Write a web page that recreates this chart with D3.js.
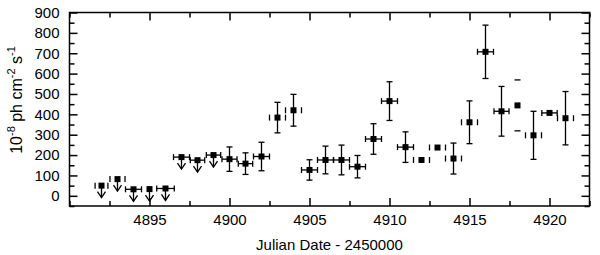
<!DOCTYPE html>
<html>
<head>
<meta charset="utf-8">
<script src="https://cdn.jsdelivr.net/npm/d3@7"></script>
<style>
  body { margin: 0; background: #fff; }
  text { font-family: "Liberation Sans", Arial, sans-serif; fill: #000; }
</style>
</head>
<body>
<div id="vis-holder"></div>
<script>
// Data
const days = [4892, 4893, 4894, 4895, 4896, 4897, 4898, 4899, 4900, 4901,
              4902, 4903, 4904, 4905, 4906, 4907, 4908, 4909, 4910, 4911,
              4912, 4913, 4914, 4915, 4916, 4917, 4918, 4919, 4920, 4921];
const flux = [50, 82, 32, 33, 36, 190, 175, 200, 180, 158,
              193, 384, 420, 127, 176, 176, 143, 279, 465, 239,
              176, 237, 183, 361, 707, 415, 444, 297, 407, 381];
const fluxErr = [0, 0, 0, 0, 0, 0, 0, 0, 60, 53,
                 70, 75, 78, 50, 68, 73, 55, 75, 95, 75,
                 0, 0, 76, 105, 131, 122, 125, 118, 0, 131];
const dayErr = [0.4, 0.47, 0.5, 0, 0.55, 0.5, 0.45, 0.45, 0.47, 0.45,
                0.5, 0.5, 0.5, 0.5, 0.5, 0.5, 0.5, 0.5, 0.5, 0.5,
                0.5, 0.5, 0.5, 0.5, 0.5, 0.47, 0, 0.5, 0.48, 0.5];
const upperLimit = [true, true, true, true, true, true, true, true, false, false,
                    false, false, false, false, false, false, false, false, false, false,
                    false, false, false, false, false, false, false, false, false, false];

const xMajor = [4895, 4900, 4905, 4910, 4915, 4920];
const yMajor = [0, 100, 200, 300, 400, 500, 600, 700, 800, 900];

// points where only the error bar caps show
const capsOnlyX = new Set([0, 1, 11, 12, 20, 21, 22, 23, 27, 29]);
const capsOnlyY = new Set([26]);

const width = 600, height = 255;
const margin = { top: 12.5, right: 10.5, bottom: 49, left: 69.5 };

const svg = d3.select("#vis-holder")
  .append("svg")
  .attr("width", width)
  .attr("height", height);

const x = d3.scaleLinear()
  .domain([4890, 4922.5])
  .range([margin.left, width - margin.right]);

const y = d3.scaleLinear()
  .domain([-50, 900])
  .range([height - margin.bottom, margin.top]);

const xMinor = d3.range(4890, 4922.6, 2.5).filter(d => !xMajor.includes(d));
const yMinor = d3.range(-50, 901, 50).filter(d => !yMajor.includes(d));

// axes, ticks pointing inside
function styleAxis(g) {
  g.select(".domain").remove();
  g.selectAll("line").attr("stroke", "#000").attr("stroke-width", 1.5);
  g.selectAll("text").attr("font-size", "15px").attr("font-family", null);
}

svg.append("g")
  .attr("transform", `translate(0,${height - margin.bottom})`)
  .call(d3.axisBottom(x).tickValues(xMajor).tickSize(-8).tickPadding(8).tickFormat(d3.format("d")))
  .call(styleAxis);
svg.append("g")
  .attr("transform", `translate(0,${height - margin.bottom})`)
  .call(d3.axisBottom(x).tickValues(xMinor).tickSize(-5).tickFormat(""))
  .call(styleAxis);
svg.append("g")
  .attr("transform", `translate(0,${margin.top})`)
  .call(d3.axisTop(x).tickValues(xMajor).tickSize(-8).tickFormat(""))
  .call(styleAxis);
svg.append("g")
  .attr("transform", `translate(0,${margin.top})`)
  .call(d3.axisTop(x).tickValues(xMinor).tickSize(-5).tickFormat(""))
  .call(styleAxis);

svg.append("g")
  .attr("transform", `translate(${margin.left},0)`)
  .call(d3.axisLeft(y).tickValues(yMajor).tickSize(-8).tickPadding(10))
  .call(styleAxis);
svg.append("g")
  .attr("transform", `translate(${margin.left},0)`)
  .call(d3.axisLeft(y).tickValues(yMinor).tickSize(-5).tickFormat(""))
  .call(styleAxis);
svg.append("g")
  .attr("transform", `translate(${width - margin.right},0)`)
  .call(d3.axisRight(y).tickValues(yMajor).tickSize(-8).tickFormat(""))
  .call(styleAxis);
svg.append("g")
  .attr("transform", `translate(${width - margin.right},0)`)
  .call(d3.axisRight(y).tickValues(yMinor).tickSize(-5).tickFormat(""))
  .call(styleAxis);

// frame
svg.append("rect")
  .attr("x", margin.left)
  .attr("y", margin.top)
  .attr("width", width - margin.left - margin.right)
  .attr("height", height - margin.top - margin.bottom)
  .attr("fill", "none")
  .attr("stroke", "#000")
  .attr("stroke-width", 1.5);

// axis titles
svg.append("text")
  .attr("x", (margin.left + width - margin.right) / 2)
  .attr("y", 250)
  .attr("text-anchor", "middle")
  .attr("font-size", "15px")
  .text("Julian Date - 2450000");

const yTitle = svg.append("text")
  .attr("transform", "translate(22,100) rotate(-90)")
  .attr("text-anchor", "middle")
  .attr("font-size", "16px");
yTitle.append("tspan").text("10");
yTitle.append("tspan").attr("dy", -7).attr("font-size", "11px").text("-8");
yTitle.append("tspan").attr("dy", 7).text(" ph cm");
yTitle.append("tspan").attr("dy", -7).attr("font-size", "11px").text("-2");
yTitle.append("tspan").attr("dy", 7).text(" s");
yTitle.append("tspan").attr("dy", -7).attr("font-size", "11px").text("-1");

// data marks
const pts = days.map((d, i) => ({
  i, day: d, v: flux[i], ve: fluxErr[i], de: dayErr[i], ul: upperLimit[i]
}));

const cap = 3;
const marks = svg.append("g").attr("stroke", "#000").attr("stroke-width", 1.3).attr("fill", "none");

pts.forEach(p => {
  const cx = x(p.day), cy = y(p.v);
  if (p.de > 0) {
    const x0 = x(p.day - p.de), x1 = x(p.day + p.de);
    if (!capsOnlyX.has(p.i)) {
      marks.append("line").attr("x1", x0).attr("x2", x1).attr("y1", cy).attr("y2", cy);
    }
    marks.append("line").attr("x1", x0).attr("x2", x0).attr("y1", cy - cap).attr("y2", cy + cap);
    marks.append("line").attr("x1", x1).attr("x2", x1).attr("y1", cy - cap).attr("y2", cy + cap);
  }
  if (p.ve > 0) {
    const y0 = y(p.v + p.ve), y1 = y(p.v - p.ve);
    if (!capsOnlyY.has(p.i)) {
      marks.append("line").attr("x1", cx).attr("x2", cx).attr("y1", y0).attr("y2", y1);
    }
    marks.append("line").attr("x1", cx - cap).attr("x2", cx + cap).attr("y1", y0).attr("y2", y0);
    marks.append("line").attr("x1", cx - cap).attr("x2", cx + cap).attr("y1", y1).attr("y2", y1);
  }
  if (p.ul) {
    const yEnd = cy + 12;
    marks.append("line").attr("x1", cx).attr("x2", cx).attr("y1", cy).attr("y2", yEnd);
    marks.append("path").attr("d", `M${cx - 4},${yEnd - 6}L${cx},${yEnd}L${cx + 4},${yEnd - 6}`);
  }
});

svg.append("g")
  .selectAll("rect")
  .data(pts)
  .enter()
  .append("rect")
  .attr("x", d => x(d.day) - 3)
  .attr("y", d => y(d.v) - 3)
  .attr("width", 6)
  .attr("height", 6)
  .attr("fill", "#000");
</script>
</body>
</html>
